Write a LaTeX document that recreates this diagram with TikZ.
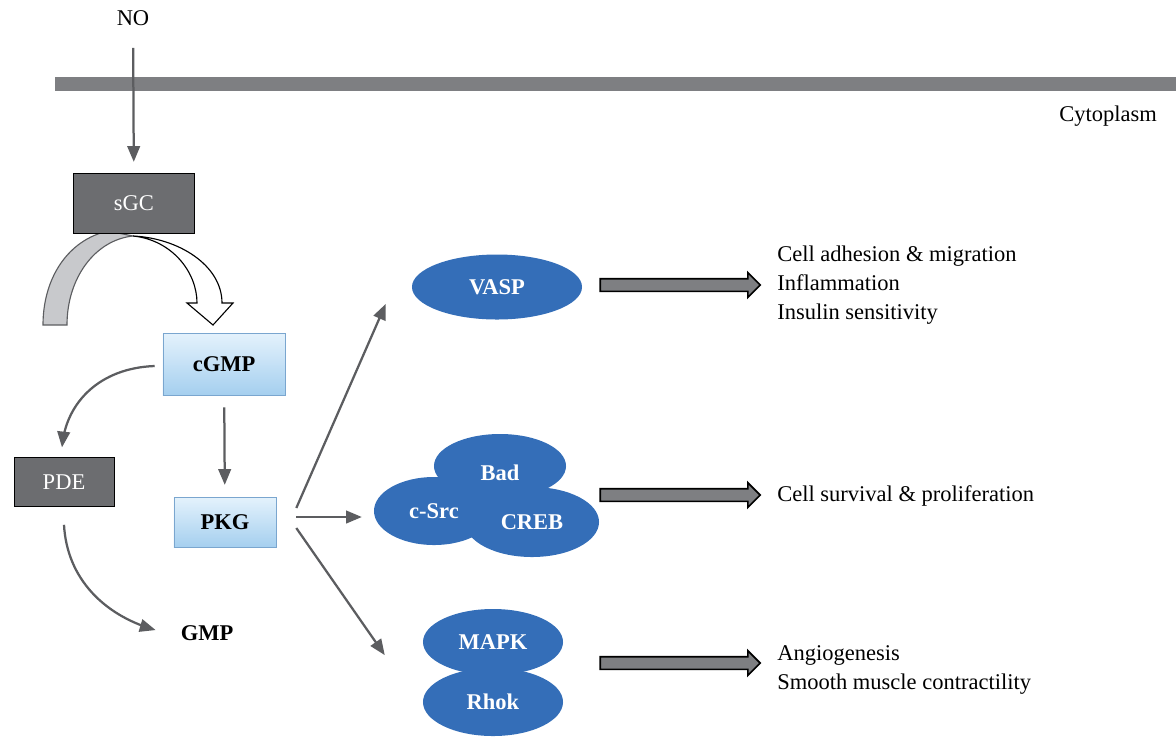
\documentclass[tikz,border=0pt]{standalone}
\usepackage{fontspec}
\setmainfont{Liberation Serif}
\usepackage{tikz}
\usetikzlibrary{positioning}
\usetikzlibrary{shapes,arrows}
\definecolor{membrane}{RGB}{126,127,130}
\definecolor{enzymegray}{RGB}{108,109,112}
\definecolor{linkgray}{RGB}{92,93,96}
\definecolor{protblue}{RGB}{52,110,184}
\definecolor{boxtop}{RGB}{228,242,252}
\definecolor{boxbot}{RGB}{165,207,239}
\definecolor{boxedge}{RGB}{122,166,207}
\definecolor{tailgray}{RGB}{200,201,204}
\newcommand{\figfont}{\fontsize{16}{20.6}\selectfont}
\tikzset{%
  enzyme/.style  = {draw=black, fill=enzymegray, text=white, font=\figfont,
    inner sep=0}, % sGC, PDE
  msgr/.style    = {draw=boxedge, top color=boxtop, bottom color=boxbot,
    font=\figfont\bfseries, inner sep=0}, % cGMP, PKG
  prot/.style    = {ellipse, fill=protblue, text=white, font=\figfont\bfseries,
    inner sep=0}, % target proteins
  fat/.style     = {single arrow, draw=black, line width=1.2pt, fill=membrane,
    minimum height=4cm, inner sep=0.1375cm, single arrow head extend=0.15cm},
  effect/.style  = {anchor=west, align=left, inner sep=0},
  link/.style    = {->, draw=linkgray, line width=1.6pt}
}

\begin{document}
\begin{tikzpicture}[x=0.025cm, y=-0.025cm, >=triangle 45, font=\figfont]
  \useasboundingbox (0,0) rectangle (1176,739);

  % membrane
  \draw[membrane, line width=0.33cm] (55,84) -- (1176,84);
  \draw node at (1108,116) [inner sep=0] (cyto) {Cytoplasm};

  % sGC turnover arrow (drawn before the box)
  \fill[tailgray, draw=linkgray, line width=0.8pt] (43,325) .. controls (43,278) and (68,240) .. (108,231)
    -- (133,236) .. controls (95,240) and (67,278) .. (67,325) -- cycle;
  \draw[fill=white, line width=0.8pt] (133,236) .. controls (178,238) and (222,265) .. (222,303)
    -- (233,303) -- (213,325) -- (187,303) -- (197,303)
    .. controls (197,272) and (172,240) .. (133,236) -- cycle;

  \draw node at (133,18) [inner sep=0] (no) {NO};
  \draw node at (134,203) [enzyme, minimum width=3.025cm, minimum height=1.5cm] (sgc) {sGC};
  \draw node at (224,364) [msgr, minimum width=3.05cm, minimum height=1.55cm] (cgmp) {cGMP};
  \draw node at (225,522) [msgr, minimum width=2.55cm, minimum height=1.25cm] (pkg) {PKG};
  \draw node at (64,482) [enzyme, minimum width=2.5cm, minimum height=1.225cm] (pde) {PDE};
  \draw node at (207,633) [inner sep=0, font=\figfont\bfseries] (gmp) {GMP};

  % targets
  \draw node at (500,466) [prot, minimum width=3.3cm, minimum height=1.6cm,
    label={[text=white, font=\figfont\bfseries, yshift=-0.18cm]center:Bad}] (bad) {};
  \draw node at (497,287) [prot, minimum width=4.25cm, minimum height=1.625cm] (vasp) {VASP};
  \draw node at (434,511) [prot, minimum width=3cm, minimum height=1.7cm] (csrc) {c-Src};
  \draw node at (532,522) [prot, minimum width=3.35cm, minimum height=1.75cm] (creb) {CREB};
  \draw node at (493,642) [prot, minimum width=3.5cm, minimum height=1.65cm] (mapk) {MAPK};
  \draw node at (493,702) [prot, minimum width=3.5cm, minimum height=1.7cm] (rhok) {Rhok};

  % outcomes
  \draw node at (677,285) [fat] (outv) {};
  \draw node at (677,495) [fat] (outc) {};
  \draw node at (677,663) [fat] (outm) {};
  \draw node at (777,285) [effect] (effv) {Cell adhesion \& migration\\Inflammation\\Insulin sensitivity};
  \draw node at (777,496) [effect] (effc) {Cell survival \& proliferation};
  \draw node at (777,670) [effect] (effm) {Angiogenesis\\Smooth muscle contractility};

  \draw[link, shorten <=0.55cm, shorten >=0.275cm] (no) -- (sgc);
  \draw[link, shorten <=0.3cm, shorten >=0.3cm] (cgmp) -- (pkg);
  \draw[link] ([shift={(-8,2)}]cgmp.west) .. controls +(-55,2) and +(5,-45) .. ([shift={(-2,-10)}]pde.north);
  \draw[link] ([shift={(0,18)}]pde.south) .. controls +(3,55) and +(-50,-15) .. ([shift={(-25,-3)}]gmp.west);
  \draw[link] ([shift={(20,-14)}]pkg.east) -- ([shift={(-26,17)}]vasp.west);
  \draw[link] ([shift={(20,-5)}]pkg.east) -- ([shift={(-12,6)}]csrc.west);
  \draw[link] ([shift={(20,6)}]pkg.east) -- ([shift={(-38,13)}]mapk.west);
  % \draw[link] (pkg) -- (creb);
\end{tikzpicture}
\end{document}
